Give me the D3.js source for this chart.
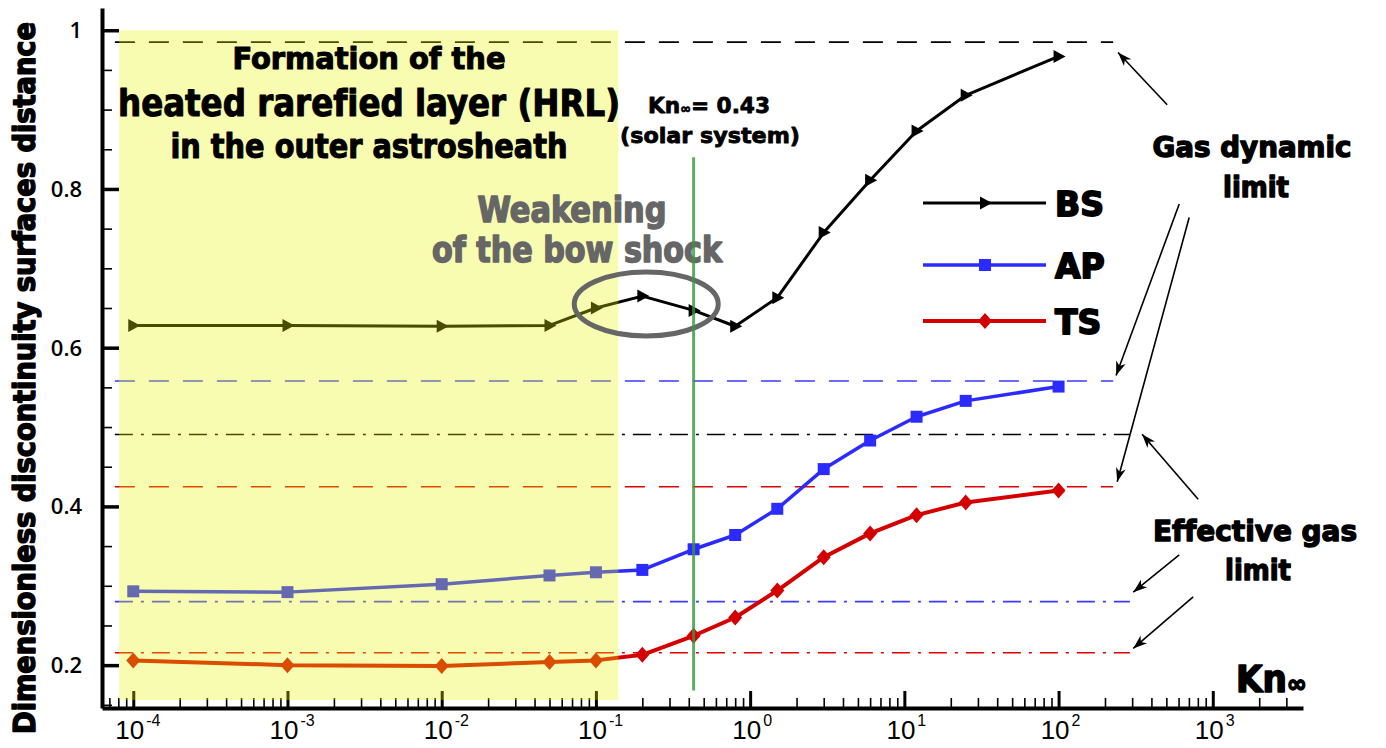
<!DOCTYPE html>
<html>
<head>
<meta charset="utf-8">
<script src="https://cdn.jsdelivr.net/npm/d3@7"></script>
<style>
  body { margin: 0; background: #fff; }
  text { font-variant-ligatures: none; font-feature-settings: "liga" 0; }
</style>
</head>
<body>
<div id="chart"></div>
<script>
// Knudsen numbers of the computed cases
const knValues = [1e-4, 1e-3, 1e-2, 0.05, 0.1, 0.2, 0.43, 0.8, 1.5, 3, 6, 12, 25, 100];
// bow shock, astropause, termination shock distances
const bsValues = [0.628, 0.628, 0.627, 0.628, 0.650, 0.665, 0.647, 0.627, 0.663, 0.745, 0.811, 0.873, 0.918, 0.967];
const apValues = [0.293, 0.292, 0.302, 0.313, 0.317, 0.320, 0.346, 0.364, 0.397, 0.447, 0.483, 0.513, 0.533, 0.551];
const tsValues = [0.206, 0.200, 0.199, 0.204, 0.206, 0.213, 0.237, 0.260, 0.294, 0.336, 0.366, 0.389, 0.405, 0.420];

const seriesNames = ["BS", "AP", "TS"];
const seriesColors = ["#000000", "#2b2bff", "#d40000"];
const limitColors = ["#000000", "#3a3aff", "#e00000"];

// limits for BS, AP, TS
const gasDynamicLimits = [0.985, 0.558, 0.4247];
const effectiveGasLimits = [0.4907, 0.280, 0.2156];

const xMajorTicks = [1e-4, 1e-3, 1e-2, 1e-1, 1e0, 1e1, 1e2, 1e3];
const xTickExponents = ["-4", "-3", "-2", "-1", "0", "1", "2", "3"];
const yMajorTicks = [0.2, 0.4, 0.6, 0.8, 1];
const yTickLabels = ["0.2", "0.4", "0.6", "0.8", "1"];

const solarKn = 0.43;

// Chart setup
const width = 1386;
const height = 748;

const svg = d3
  .select("#chart")
  .append("svg")
  .attr("width", width)
  .attr("height", height);

const x = d3.scaleLog().domain([6.27e-5, 3846]).range([102, 1303]);
const y = d3.scaleLinear().domain([0.146, 1.028]).range([708, 8]);

const narrowFont = "'Liberation Sans Narrow', 'DejaVu Sans Condensed', 'Liberation Sans', sans-serif";
const heavyFont = "'DejaVu Sans', 'Liberation Sans', sans-serif";

// thicken bold text a bit, the original uses a black weight
function heavy(sel, color, w) {
  return sel
    .attr("stroke", color)
    .attr("stroke-width", w)
    .attr("stroke-linejoin", "round");
}

// Arrow marker
const defs = svg.append("defs");
defs
  .append("marker")
  .attr("id", "arrowhead")
  .attr("viewBox", "-15 -6 16 12")
  .attr("refX", 0)
  .attr("refY", 0)
  .attr("markerWidth", 16)
  .attr("markerHeight", 12)
  .attr("markerUnits", "userSpaceOnUse")
  .attr("orient", "auto")
  .append("path")
  .attr("d", "M0,0L-14,-5L-10,0L-14,5Z")
  .attr("fill", "#000");

// Limit lines
const limitStart = 7.6e-5;
const dashEnd = 226;
const dashDotEnd = 290;

gasDynamicLimits.forEach((v, i) => {
  svg
    .append("line")
    .attr("x1", x(limitStart))
    .attr("x2", x(dashEnd))
    .attr("y1", y(v))
    .attr("y2", y(v))
    .attr("stroke", limitColors[i])
    .attr("stroke-width", 1.6)
    .attr("stroke-dasharray", "20,14");
});

effectiveGasLimits.forEach((v, i) => {
  svg
    .append("line")
    .attr("x1", x(limitStart))
    .attr("x2", x(dashDotEnd))
    .attr("y1", y(v))
    .attr("y2", y(v))
    .attr("stroke", limitColors[i])
    .attr("stroke-width", 1.6)
    .attr("stroke-dasharray", "18,8,3,8");
});

// Series
const seriesValues = [bsValues, apValues, tsValues];
const lineWidths = [3, 3.5, 4];
const markerPaths = [
  "M-5,-6.5L7,0L-5,6.5Z",
  "M-6,-6H6V6H-6Z",
  "M0,-8L7,0L0,8L-7,0Z",
];

const line = d3
  .line()
  .x((d) => x(d.kn))
  .y((d) => y(d.v));

seriesValues.forEach((vals, i) => {
  const pts = knValues.map((kn, j) => ({ kn: kn, v: vals[j] }));
  svg
    .append("path")
    .datum(pts)
    .attr("d", line)
    .attr("fill", "none")
    .attr("stroke", seriesColors[i])
    .attr("stroke-width", lineWidths[i])
    .attr("stroke-linejoin", "round");

  svg
    .selectAll(".mk" + i)
    .data(pts)
    .enter()
    .append("path")
    .attr("class", "mk" + i)
    .attr("d", markerPaths[i])
    .attr("transform", (d) => `translate(${x(d.kn)},${y(d.v)})`)
    .attr("fill", seriesColors[i]);
});

// Axes
const xMinor = x.ticks().filter((t) => !xMajorTicks.some((m) => Math.abs(m - t) / m < 1e-6));
const yMinor = d3.range(0.15, 1.001, 0.05).filter((t) => !yMajorTicks.some((m) => Math.abs(m - t) < 1e-6));

const xAxisMinor = svg
  .append("g")
  .attr("transform", `translate(0,${y.range()[0]})`)
  .call(d3.axisBottom(x).tickValues(xMinor).tickSize(-10).tickSizeOuter(0).tickFormat(""));
xAxisMinor.selectAll(".tick line").attr("stroke-width", 1.6);
xAxisMinor.select(".domain").attr("stroke-width", 4);

const xAxisMajor = svg
  .append("g")
  .attr("transform", `translate(0,${y.range()[0]})`)
  .call(d3.axisBottom(x).tickValues(xMajorTicks).tickSize(-17).tickSizeOuter(0).tickFormat(""));
xAxisMajor.selectAll(".tick line").attr("stroke-width", 3);
xAxisMajor.select(".domain").remove();

const yAxisMinor = svg
  .append("g")
  .attr("transform", `translate(${x.range()[0]},0)`)
  .call(d3.axisLeft(y).tickValues(yMinor).tickSize(-10).tickSizeOuter(0).tickFormat(""));
yAxisMinor.selectAll(".tick line").attr("stroke-width", 1.6);
yAxisMinor.select(".domain").attr("stroke-width", 4);

const yAxisMajor = svg
  .append("g")
  .attr("transform", `translate(${x.range()[0]},0)`)
  .call(d3.axisLeft(y).tickValues(yMajorTicks).tickSize(-17).tickSizeOuter(0).tickFormat(""));
yAxisMajor.selectAll(".tick line").attr("stroke-width", 3.5);
yAxisMajor.select(".domain").remove();

// X tick labels with exponents
xMajorTicks.forEach((t, i) => {
  svg
    .append("text")
    .attr("x", x(t) + 11)
    .attr("y", 739)
    .attr("text-anchor", "end")
    .style("font-family", "'Liberation Sans', Arial, sans-serif")
    .style("font-size", "26px")
    .text("10");
  svg
    .append("text")
    .attr("x", x(t) + 13)
    .attr("y", 726)
    .style("font-family", "'Liberation Sans', Arial, sans-serif")
    .style("font-size", "16px")
    .text(xTickExponents[i]);
});

// Y tick labels
yMajorTicks.forEach((t, i) => {
  svg
    .append("text")
    .attr("x", 82)
    .attr("y", y(t) + 8)
    .attr("text-anchor", "end")
    .style("font-family", "'Open Sans', 'DejaVu Sans', sans-serif")
    .style("font-weight", 600)
    .style("font-size", "22px")
    .text(yTickLabels[i]);
});

// HRL region
svg
  .append("rect")
  .attr("x", x(8.1e-5))
  .attr("y", y(1.0))
  .attr("width", x(0.14) - x(8.1e-5))
  .attr("height", y(0.156) - y(1.0))
  .attr("fill", "rgb(232,245,0)")
  .attr("opacity", 0.31);

// Region text
const titleLines = [
  { t: "Formation of the", y: 69, size: 30, len: 273 },
  { t: "heated rarefied layer (HRL)", y: 116, size: 38, len: 502 },
  { t: "in the outer astrosheath", y: 158, size: 33, len: 397 },
];
titleLines.forEach((d) => {
  heavy(
    svg
      .append("text")
      .attr("x", 369)
      .attr("y", d.y)
      .attr("text-anchor", "middle")
      .attr("textLength", d.len)
      .attr("lengthAdjust", "spacingAndGlyphs")
      .style("font-family", narrowFont)
      .style("font-weight", "bold")
      .style("font-size", d.size + "px")
      .text(d.t),
    "#000",
    1.0
  );
});

// Weakening of the bow shock
const weakLines = [
  { t: "Weakening", x: 572, y: 222, len: 189 },
  { t: "of the bow shock", x: 577, y: 262, len: 290 },
];
weakLines.forEach((d) => {
  heavy(
    svg
      .append("text")
      .attr("x", d.x)
      .attr("y", d.y)
      .attr("text-anchor", "middle")
      .attr("textLength", d.len)
      .attr("lengthAdjust", "spacingAndGlyphs")
      .style("font-family", narrowFont)
      .style("font-weight", "bold")
      .style("font-size", "35px")
      .attr("fill", "#666")
      .text(d.t),
    "#666",
    1.4
  );
});

svg
  .append("ellipse")
  .attr("cx", x(0.212))
  .attr("cy", y(0.655))
  .attr("rx", 72)
  .attr("ry", 32)
  .attr("fill", "none")
  .attr("stroke", "#666")
  .attr("stroke-width", 5);

// Solar system Kn
const knLabel = heavy(
  svg
    .append("text")
    .attr("x", 648)
    .attr("y", 113)
    .attr("textLength", 122)
    .attr("lengthAdjust", "spacingAndGlyphs")
    .style("font-family", heavyFont)
    .style("font-weight", "bold")
    .style("font-size", "22px"),
  "#000",
  0.8
);
knLabel.append("tspan").text("Kn");
knLabel.append("tspan").style("font-size", "13px").text("\u221E");
knLabel.append("tspan").text("= 0.43");

heavy(
  svg
    .append("text")
    .attr("x", 710)
    .attr("y", 143)
    .attr("text-anchor", "middle")
    .attr("textLength", 180)
    .attr("lengthAdjust", "spacingAndGlyphs")
    .style("font-family", heavyFont)
    .style("font-weight", "bold")
    .style("font-size", "21px")
    .text("(solar system)"),
  "#000",
  0.8
);

svg
  .append("line")
  .attr("x1", x(solarKn))
  .attr("x2", x(solarKn))
  .attr("y1", y(0.84))
  .attr("y2", y(0.168))
  .attr("stroke", "rgb(60,150,60)")
  .attr("stroke-opacity", 0.8)
  .attr("stroke-width", 3);

// Legend
const legendY = [203, 265, 321];
seriesNames.forEach((name, i) => {
  svg
    .append("line")
    .attr("x1", 923)
    .attr("x2", 1046)
    .attr("y1", legendY[i])
    .attr("y2", legendY[i])
    .attr("stroke", seriesColors[i])
    .attr("stroke-width", lineWidths[i]);
  svg
    .append("path")
    .attr("d", markerPaths[i])
    .attr("transform", `translate(985,${legendY[i]})`)
    .attr("fill", seriesColors[i]);
  heavy(
    svg
      .append("text")
      .attr("x", 1055)
      .attr("y", legendY[i] + 13)
      .style("font-family", heavyFont)
      .style("font-weight", "bold")
      .style("font-size", "33px")
      .text(name),
    "#000",
    1.8
  );
});

// Limit annotations
const noteLines = [
  { t: "Gas dynamic", x: 1252, y: 157, len: 199 },
  { t: "limit", x: 1256, y: 197, len: 66 },
  { t: "Effective gas", x: 1255, y: 541, len: 204 },
  { t: "limit", x: 1258, y: 580, len: 66 },
];
noteLines.forEach((d) => {
  heavy(
    svg
      .append("text")
      .attr("x", d.x)
      .attr("y", d.y)
      .attr("text-anchor", "middle")
      .attr("textLength", d.len)
      .attr("lengthAdjust", "spacingAndGlyphs")
      .style("font-family", heavyFont)
      .style("font-weight", "bold")
      .style("font-size", "28px")
      .text(d.t),
    "#000",
    1.4
  );
});

// arrows, in data units: [kn, value] from -> to
const arrows = [
  [[506, 0.906], [243, 0.972]],
  [[606, 0.781], [236, 0.565]],
  [[703, 0.764], [240, 0.431]],
  [[804, 0.409], [348, 0.491]],
  [[606, 0.339], [305, 0.292]],
  [[746, 0.286], [305, 0.221]],
];
arrows.forEach((a) => {
  svg
    .append("line")
    .attr("x1", x(a[0][0]))
    .attr("y1", y(a[0][1]))
    .attr("x2", x(a[1][0]))
    .attr("y2", y(a[1][1]))
    .attr("stroke", "#000")
    .attr("stroke-width", 1.6)
    .attr("marker-end", "url(#arrowhead)");
});

// Axis titles
const xTitle = heavy(
  svg
    .append("text")
    .attr("x", 1236)
    .attr("y", 692)
    .style("font-family", narrowFont)
    .style("font-weight", "bold")
    .style("font-size", "38px"),
  "#000",
  1.6
);
xTitle.append("tspan").text("Kn");
xTitle.append("tspan").style("font-family", heavyFont).style("font-size", "24px").text("\u221E");

heavy(
  svg
    .append("text")
    .attr("transform", "translate(35,378) rotate(-90)")
    .attr("text-anchor", "middle")
    .attr("textLength", 712)
    .attr("lengthAdjust", "spacingAndGlyphs")
    .style("font-family", narrowFont)
    .style("font-weight", "bold")
    .style("font-size", "30px")
    .text("Dimensionless discontinuity surfaces distance"),
  "#000",
  1.4
);
</script>
</body>
</html>
